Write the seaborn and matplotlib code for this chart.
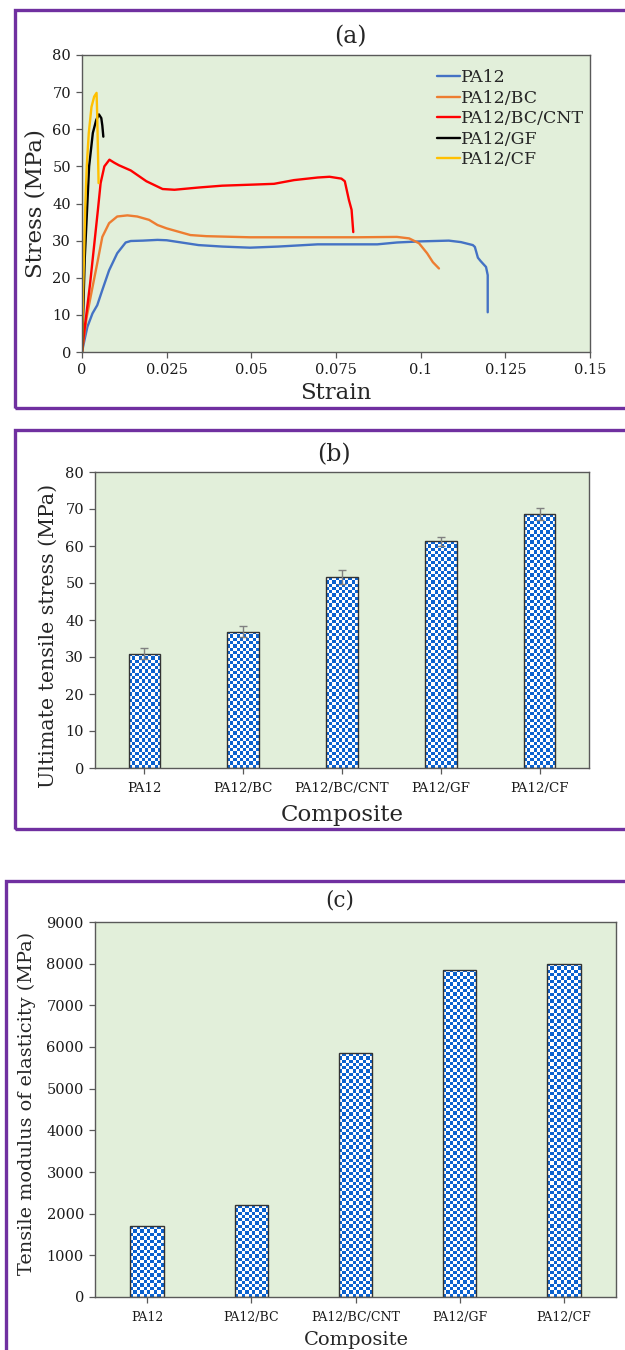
import numpy as np
import pandas as pd
import matplotlib
matplotlib.use("Agg")
import matplotlib.pyplot as plt
from matplotlib.patches import Rectangle
from matplotlib.colors import ListedColormap
import seaborn as sns

# ---------------- stress-strain curves ----------------
pa12_strain = [0, 0.0008, 0.0016, 0.0031, 0.0045, 0.0060, 0.0080, 0.0104, 0.0129, 0.0144,
               0.0180, 0.0223, 0.0250, 0.0344, 0.0414, 0.0496, 0.0579, 0.0696, 0.0790,
               0.0872, 0.0930, 0.1001, 0.1083, 0.1119, 0.1154, 0.1160, 0.1169, 0.1177,
               0.1193, 0.1198, 0.1198]
pa12_stress = [0, 3.5, 6.8, 10.4, 12.6, 16.7, 22.0, 26.6, 29.5, 29.9,
               30.0, 30.2, 30.1, 28.8, 28.4, 28.1, 28.4, 29.0, 29.0,
               29.0, 29.5, 29.8, 30.0, 29.6, 28.8, 28.3, 25.4, 24.5,
               22.9, 20.7, 10.7]

bc_strain = [0, 0.0014, 0.0030, 0.0045, 0.0060, 0.0080, 0.0104, 0.0134, 0.0163, 0.0198,
             0.0223, 0.0250, 0.0320, 0.0367, 0.0496, 0.0650, 0.0813, 0.0930, 0.0966,
             0.0995, 0.1019, 0.1036, 0.1054]
bc_stress = [0, 9.5, 17.0, 23.9, 31.0, 34.7, 36.5, 36.8, 36.5, 35.6,
             34.2, 33.3, 31.5, 31.2, 30.9, 30.9, 30.9, 31.0, 30.6,
             29.3, 26.6, 24.2, 22.5]

cnt_strain = [0, 0.0006, 0.0024, 0.0047, 0.0055, 0.0066, 0.0081, 0.0095, 0.0109, 0.0144,
              0.0190, 0.0238, 0.0273, 0.0344, 0.0414, 0.0508, 0.0567, 0.0626, 0.0696,
              0.0731, 0.0766, 0.0776, 0.0788, 0.0796, 0.0801]
cnt_stress = [0, 5.0, 18.5, 38.3, 45.5, 50.0, 51.8, 51.0, 50.3, 48.9,
              46.0, 43.9, 43.7, 44.3, 44.8, 45.1, 45.3, 46.3, 47.0,
              47.2, 46.7, 46.0, 41.0, 38.3, 32.3]

gf_strain = [0, 0.0004, 0.0008, 0.0014, 0.0021, 0.0032, 0.0042, 0.0050, 0.0057, 0.0060, 0.0063]
gf_stress = [0, 12.0, 25.0, 36.5, 50.0, 59.0, 62.5, 64.0, 63.0, 61.0, 58.0]

cf_strain = [0, 0.0003, 0.0007, 0.0010, 0.0014, 0.0020, 0.0028, 0.0036, 0.0043, 0.0045, 0.0047, 0.0049]
cf_stress = [0, 15.0, 30.0, 40.0, 50.0, 59.0, 66.0, 68.8, 69.8, 63.5, 54.5, 45.5]

# ---------------- bar data ----------------
composites = ["PA12", "PA12/BC", "PA12/BC/CNT", "PA12/GF", "PA12/CF"]
uts = [30.9, 36.8, 51.6, 61.3, 68.6]
uts_err = [1.5, 1.5, 1.8, 1.2, 1.6]
modulus = [1700, 2200, 5850, 7850, 8000]

line_colors = {"PA12": "#4472C4", "PA12/BC": "#ED7D31", "PA12/BC/CNT": "#FF0000",
               "PA12/GF": "#000000", "PA12/CF": "#FFC000"}

curves = pd.concat([
    pd.DataFrame({"Strain": s, "Stress": t, "Material": name})
    for name, s, t in [("PA12", pa12_strain, pa12_stress),
                       ("PA12/BC", bc_strain, bc_stress),
                       ("PA12/BC/CNT", cnt_strain, cnt_stress),
                       ("PA12/GF", gf_strain, gf_stress),
                       ("PA12/CF", cf_strain, cf_stress)]
], ignore_index=True)

sns.set_style("ticks")
plt.rcParams["font.family"] = ["DejaVu Serif"]
plt.rcParams["axes.edgecolor"] = "#595959"
plt.rcParams["xtick.color"] = "#595959"
plt.rcParams["ytick.color"] = "#595959"
plt.rcParams["xtick.labelcolor"] = "#1a1a1a"
plt.rcParams["ytick.labelcolor"] = "#1a1a1a"

W, H = 625, 1350
fig = plt.figure(figsize=(W / 100, H / 100), dpi=100)
BG = "#E2EFDA"
PURPLE = "#7030A0"


def fig_axes(left, top, right, bottom):
    return fig.add_axes([left / W, 1 - bottom / H, (right - left) / W, (bottom - top) / H])


def panel_frame(left, top, bottom):
    fig.patches.append(Rectangle((left / W, 1 - bottom / H), (W + 20 - left) / W,
                                 (bottom - top) / H, transform=fig.transFigure,
                                 fill=False, edgecolor=PURPLE, linewidth=2.4, zorder=0))


def style_axes(ax, tick_size):
    ax.set_facecolor(BG)
    for sp in ax.spines.values():
        sp.set_visible(True)
        sp.set_linewidth(1.0)
        sp.set_color("#595959")
    ax.tick_params(axis="both", direction="out", length=4, width=0.9,
                   labelsize=tick_size, pad=4)


def checker_fill(ax, patches, cell_px=3.3, colors=("#0b62cf", "#ffffff")):
    cmap = ListedColormap(list(colors))
    xl, yl = ax.get_xlim(), ax.get_ylim()
    for p in patches:
        x0, y0 = p.get_x(), p.get_y()
        w, h = p.get_width(), p.get_height()
        (px0, py0), (px1, py1) = ax.transData.transform([(x0, y0), (x0 + w, y0 + h)])
        nx = max(1, int(round(abs(px1 - px0) / cell_px)))
        ny = max(1, int(round(abs(py1 - py0) / cell_px)))
        grid = np.indices((ny, nx)).sum(axis=0) % 2
        im = ax.imshow(grid, cmap=cmap, vmin=0, vmax=1, extent=(x0, x0 + w, y0, y0 + h),
                       origin="lower", interpolation="nearest", aspect="auto",
                       zorder=p.get_zorder() - 0.05)
        im.set_clip_path(p)
        p.set_facecolor("none")
    ax.set_xlim(xl)
    ax.set_ylim(yl)


# ---------------- (a) stress-strain ----------------
panel_frame(15, 10, 408)
ax1 = fig_axes(82, 55, 590, 352)
sns.lineplot(data=curves, x="Strain", y="Stress", hue="Material", palette=line_colors,
             hue_order=composites, sort=False, estimator=None, linewidth=1.7, ax=ax1)
ax1.set_xlim(0, 0.15)
ax1.set_ylim(0, 80)
ax1.set_xticks([0, 0.025, 0.05, 0.075, 0.1, 0.125, 0.15])
ax1.set_xticklabels(["0", "0.025", "0.05", "0.075", "0.1", "0.125", "0.15"])
ax1.set_yticks(range(0, 81, 10))
style_axes(ax1, 10.5)
ax1.set_xlabel("Strain", fontsize=16.5)
ax1.set_ylabel("Stress (MPa)", fontsize=16.5)
ax1.xaxis.set_label_coords(0.5, -0.138)
ax1.xaxis.label.set_va("center")
ax1.yaxis.set_label_coords(-0.0906, 0.5)
ax1.yaxis.label.set_va("center")
handles, labels = ax1.get_legend_handles_labels()
ax1.legend(handles, labels, loc="upper left", bbox_to_anchor=(0.699, 0.952),
           frameon=False, fontsize=12.5, handlelength=1.3, handletextpad=0.1,
           labelspacing=0.2, borderpad=0, borderaxespad=0)
fig.text(350 / W, 1 - 37 / H, "(a)", ha="center", va="center", fontsize=17)

# ---------------- (b) ultimate tensile stress ----------------
panel_frame(15, 430, 829)
ax2 = fig_axes(95, 472, 589, 768)
uts_df = pd.DataFrame({"Composite": composites, "UTS": uts})
sns.barplot(data=uts_df, x="Composite", y="UTS", order=composites, width=0.32,
            errorbar=None, color="#0b62cf", edgecolor="#333333", linewidth=1.0, ax=ax2)
ax2.errorbar(np.arange(len(composites)), uts, yerr=uts_err, fmt="none",
             ecolor="#808080", elinewidth=1.0, capsize=3, capthick=1.0, zorder=3)
ax2.set_xlim(-0.5, len(composites) - 0.5)
ax2.set_ylim(0, 80)
ax2.set_yticks(range(0, 81, 10))
style_axes(ax2, 10.5)
ax2.tick_params(axis="x", labelsize=9.6, pad=6)
ax2.set_xlabel("Composite", fontsize=16.5)
ax2.set_ylabel("Ultimate tensile stress (MPa)", fontsize=14.8)
ax2.xaxis.set_label_coords(0.5, -0.159)
ax2.xaxis.label.set_va("center")
ax2.yaxis.set_label_coords(-0.095, 0.446)
ax2.yaxis.label.set_va("center")
checker_fill(ax2, list(ax2.patches))
fig.text(334 / W, 1 - 455 / H, "(b)", ha="center", va="center", fontsize=17)

# ---------------- (c) tensile modulus ----------------
panel_frame(6, 881, 1380)
ax3 = fig_axes(95, 922, 616, 1297)
mod_df = pd.DataFrame({"Composite": composites, "Modulus": modulus})
sns.barplot(data=mod_df, x="Composite", y="Modulus", order=composites, width=0.32,
            errorbar=None, color="#0b62cf", edgecolor="#333333", linewidth=1.0, ax=ax3)
ax3.set_xlim(-0.5, len(composites) - 0.5)
ax3.set_ylim(0, 9000)
ax3.set_yticks(range(0, 9001, 1000))
style_axes(ax3, 10.5)
ax3.tick_params(axis="x", labelsize=9.0, pad=6)
ax3.set_xlabel("Composite", fontsize=14)
ax3.set_ylabel("Tensile modulus of elasticity (MPa)", fontsize=13.9)
ax3.xaxis.set_label_coords(0.501, -0.115)
ax3.xaxis.label.set_va("center")
ax3.yaxis.set_label_coords(-0.1305, 0.515)
ax3.yaxis.label.set_va("center")
checker_fill(ax3, list(ax3.patches))
fig.text(340 / W, 1 - 900 / H, "(c)", ha="center", va="center", fontsize=15.5)

fig.savefig("out.png", dpi=100, facecolor="white")
